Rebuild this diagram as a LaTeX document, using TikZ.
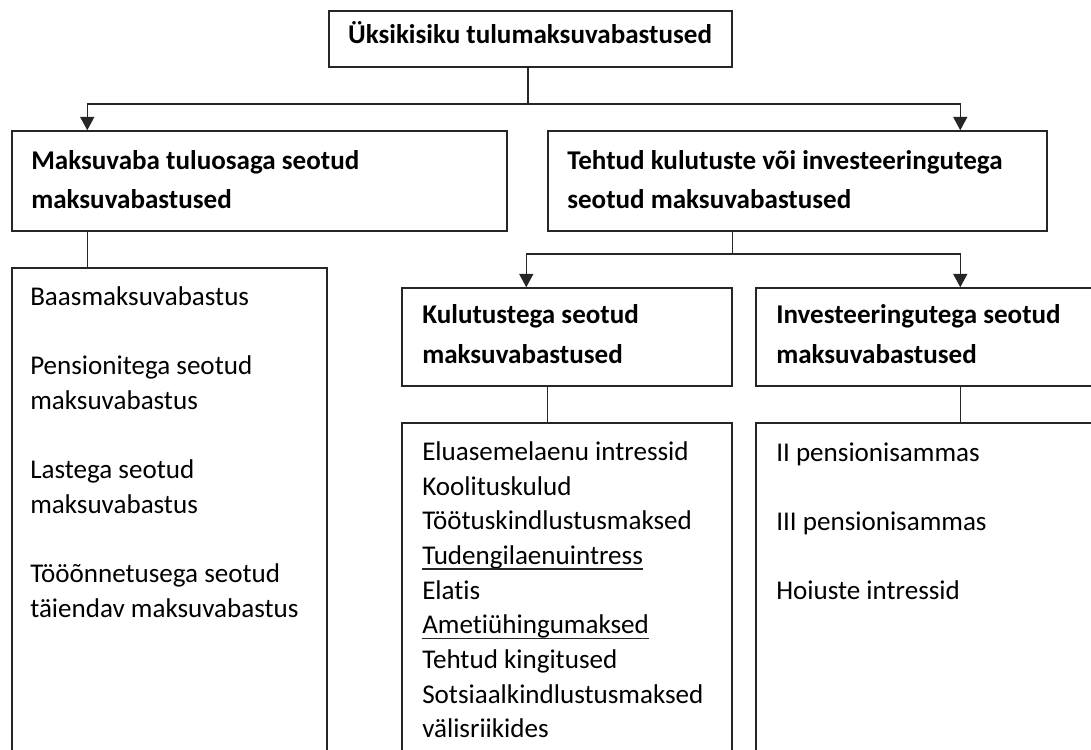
\documentclass[tikz,border=0pt]{standalone}
\usepackage{fontspec}
\setmainfont{Carlito}[Ligatures={NoCommon}]
\usetikzlibrary{arrows.meta,calc}
\begin{document}
\begin{tikzpicture}[x=0.75pt,y=-0.75pt,
  box/.style={draw=black!85, line width=1.1pt, inner sep=0, rectangle},
  arr/.style={draw=black!85, line width=1.1pt, -{Triangle[width=10.5pt,length=10pt]}},
  ln/.style={draw=black!85, line width=1.1pt},
  hd/.style={inner sep=0, anchor=base west, font=\fontsize{20.3}{24}\selectfont\bfseries},
  it/.style={inner sep=0, anchor=base west, font=\fontsize{20.3}{24}\selectfont},
  ul/.style={draw=black!85, line width=0.9pt}]
\useasboundingbox (0,0) rectangle (1091,749);

% boxes
\node[box, minimum width=403*0.75pt, minimum height=56*0.75pt] (top) at (530.5,39) {};
\node[box, minimum width=495*0.75pt, minimum height=100*0.75pt] (m1) at (259.5,181) {};
\node[box, minimum width=499*0.75pt, minimum height=100*0.75pt] (m2) at (797.5,181) {};
\node[box, minimum width=330*0.75pt, minimum height=98*0.75pt] (k) at (567,337) {};
\node[box, minimum width=339*0.75pt, minimum height=98*0.75pt] (inv) at (925.5,337) {};
\node[box, minimum width=315*0.75pt, minimum height=492*0.75pt] (l1) at (169.5,514) {};
\node[box, minimum width=330*0.75pt, minimum height=337*0.75pt] (l2) at (567,591.5) {};
\node[box, minimum width=339*0.75pt, minimum height=337*0.75pt] (l3) at (925.5,591.5) {};

% header texts
\node[hd, anchor=base] (t0) at (530,44) {Üksikisiku tulumaksuvabastused};
\node[hd] (m1a) at (31,169) {Maksuvaba tuluosaga seotud};
\node[hd] (m1b) at (31,208) {maksuvabastused};
\node[hd] (m2a) at (567,169) {Tehtud kulutuste või investeeringutega};
\node[hd] (m2b) at (567,208) {seotud maksuvabastused};
\node[hd] (ka) at (422,323) {Kulutustega seotud};
\node[hd] (kb) at (422,363) {maksuvabastused};
\node[hd] (ia) at (776,323) {Investeeringutega seotud};
\node[hd] (ib) at (776,363) {maksuvabastused};

% left list
\node[it] (a1) at (30,305) {Baasmaksuvabastus};
\node[it] (a2) at (30,374) {Pensionitega seotud};
\node[it] (a3) at (30,409) {maksuvabastus};
\node[it] (a4) at (30,478) {Lastega seotud};
\node[it] (a5) at (30,513) {maksuvabastus};
\node[it] (a6) at (30,582) {Tööõnnetusega seotud};
\node[it] (a7) at (30,617) {täiendav maksuvabastus};

% middle list
\node[it] (b1) at (422,460) {Eluasemelaenu intressid};
\node[it] (b2) at (422,495) {Koolituskulud};
\node[it] (b3) at (422,529.5) {Töötuskindlustusmaksed};
\node[it] (b4) at (422,564) {Tudengilaenuintress};
\node[it] (b5) at (422,599) {Elatis};
\node[it] (b6) at (422,633.5) {Ametiühingumaksed};
\node[it] (b7) at (422,668) {Tehtud kingitused};
\node[it] (b8) at (422,703) {Sotsiaalkindlustusmaksed};
\node[it] (b9) at (422,737.5) {välisriikides};
\draw[ul] ([yshift=-3.8pt]b4.base west) -- ([yshift=-3.8pt]b4.base east);
\draw[ul] ([yshift=-3.8pt]b6.base west) -- ([yshift=-3.8pt]b6.base east);

% right list
\node[it] (c1) at (776,461) {II pensionisammas};
\node[it] (c2) at (776,530) {III pensionisammas};
\node[it] (c3) at (776,599) {Hoiuste intressid};

% connectors
\coordinate (bus1) at (0,104);
\coordinate (bus2) at (0,254);
\coordinate (m1in) at ($(m1.north west)+(76,0)$);
\coordinate (m2in) at ($(m2.north west)+(413,0)$);
\coordinate (kin) at ($(k.north west)+(125,0)$);
\coordinate (invin) at ($(inv.north west)+(205,0)$);
\coordinate (kout) at ($(k.south west)+(146,0)$);
\coordinate (tout) at ($(top.south)+(-2.5,0)$);

\draw[ln] (tout) -- (tout |- bus1);
\draw[arr] (tout |- bus1) -| (m1in);
\draw[arr] (tout |- bus1) -| (m2in);
\draw[ln] (m1in |- m1.south) -- (m1in |- l1.north);

\draw[ln] (k.east |- m2.south) -- (k.east |- bus2);
\draw[arr] (k.east |- bus2) -| (kin);
\draw[arr] (k.east |- bus2) -| (invin);
\draw[ln] (kout) -- (kout |- l2.north);
\draw[ln] (invin |- inv.south) -- (invin |- l3.north);
\end{tikzpicture}
\end{document}
